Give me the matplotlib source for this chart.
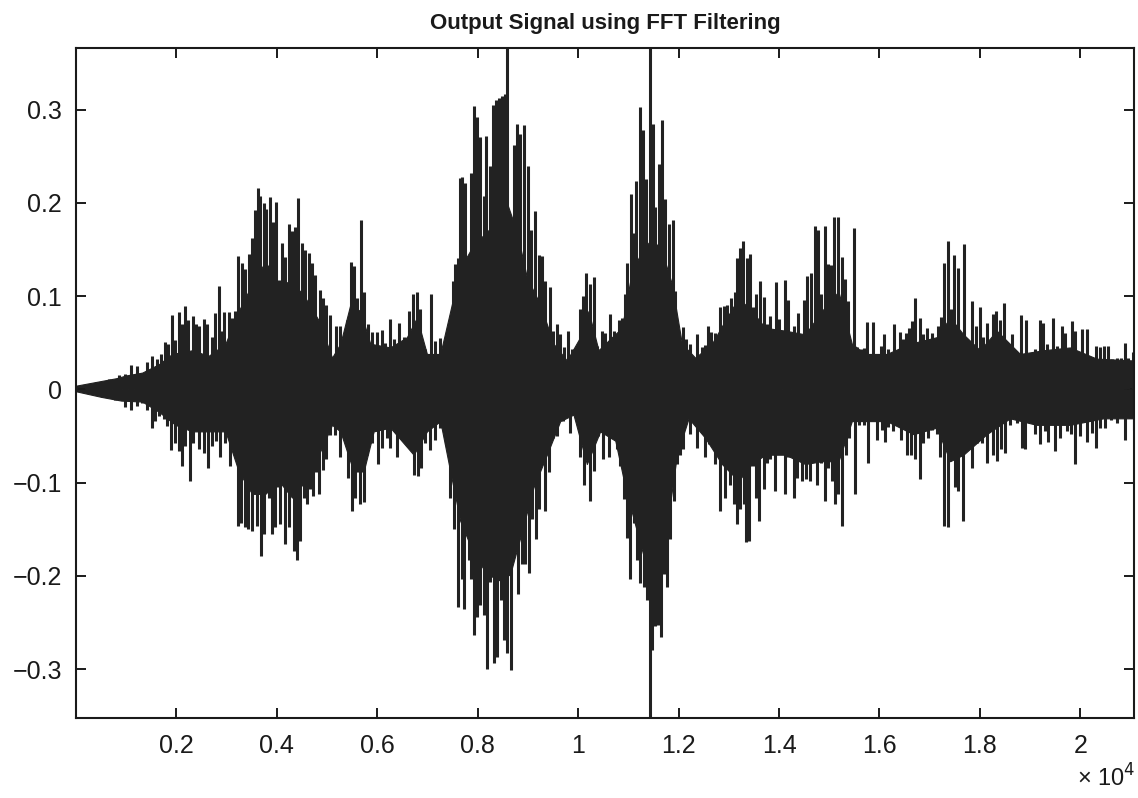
import matplotlib
matplotlib.use("Agg")
import matplotlib.pyplot as plt
import numpy as np

plt.rcParams['font.family'] = ['Liberation Sans', 'DejaVu Sans']

# ---- data (sample index, amplitude) ----
# upper peaks
hi_x = [0, 189, 388, 653, 852, 985, 1085, 1217, 1317, 1416, 1516, 1615, 1702, 1768, 1834,
        1914, 1980, 2060, 2113, 2166, 2232, 2325, 2392, 2445, 2557, 2610, 2710, 2776, 2843,
        2909, 2955, 3042, 3108, 3161, 3221, 3307, 3373, 3440, 3506, 3572, 3625, 3672, 3738,
        3791, 3858, 3924, 3984, 4037, 4103, 4170, 4236, 4302, 4369, 4422, 4501, 4568, 4634,
        4700, 4766, 4853, 4919, 4986, 5065, 5098, 5184,
        5264, 5330, 5396, 5483, 5542, 5595, 5675, 5741, 5808, 5894, 5993, 6093, 6159, 6245,
        6325, 6425, 6524, 6624, 6703, 6789, 6856, 6955, 7075, 7154, 7254, 7333, 7420, 7506,
        7552, 7599, 7639, 7692, 7745, 7804, 7864, 7917, 7984, 8050, 8116, 8169, 8236, 8302,
        8355, 8415, 8481, 8534, 8581, 8647, 8713, 8786, 8846, 8926, 8999, 9065, 9145, 9211,
        9277, 9344, 9430, 9496, 9576, 9642, 9722, 9795, 9874, 9940, 10027, 10093, 10160,
        10226, 10306, 10372, 10471,
        10540, 10640, 10706, 10806, 10872, 10925, 10978, 11045, 11098, 11157, 11224, 11284,
        11357, 11423, 11483, 11536, 11602, 11668, 11735, 11801, 11881, 11934, 12013, 12080,
        12146, 12232, 12299, 12372, 12464, 12531, 12584, 12650, 12730, 12829, 12896, 12962,
        13048, 13115, 13168, 13227, 13280, 13360, 13426, 13479, 13539, 13612, 13692, 13758,
        13824, 13931, 13990, 14123, 14189, 14289, 14388, 14494, 14567, 14634, 14707, 14773,
        14839, 14906, 14972, 15038, 15105, 15184, 15251, 15317, 15383, 15450, 15503, 15562,
        15635, 15701, 15748,
        15814, 15881, 15947, 16027, 16100, 16179, 16292, 16345, 16411, 16478, 16531, 16597,
        16644, 16716, 16756, 16809, 16876, 16942, 17042, 17108, 17161, 17227, 17287, 17367,
        17420, 17486, 17566, 17619, 17685, 17751, 17851, 17917, 18003, 18070, 18136, 18189,
        18269, 18322, 18402, 18488, 18547, 18634, 18713, 18819, 18912, 18999, 19098, 19198,
        19251, 19344, 19450, 19529, 19629, 19702, 19834, 19887, 20027, 20126, 20193, 20305,
        20392, 20471, 20557, 20624, 20723, 20803, 20889, 20955, 21055]
hi_v = [0.004, 0.004, 0.008, 0.011, 0.015, 0.017, 0.026, 0.025, 0.018, 0.029, 0.036, 0.033,
        0.038, 0.051, 0.049, 0.080, 0.053, 0.083, 0.070, 0.089, 0.074, 0.079, 0.070, 0.068,
        0.076, 0.070, 0.056, 0.082, 0.111, 0.063, 0.083, 0.083, 0.077, 0.084, 0.143, 0.135,
        0.129, 0.145, 0.162, 0.192, 0.216, 0.207, 0.200, 0.193, 0.206, 0.180, 0.201, 0.117,
        0.157, 0.142, 0.177, 0.170, 0.174, 0.205, 0.157, 0.150, 0.146, 0.135, 0.123, 0.107,
        0.098, 0.090, 0.080, 0.032, 0.068,
        0.068, 0.054, 0.074, 0.137, 0.132, 0.098, 0.182, 0.104, 0.070, 0.062, 0.062, 0.064,
        0.050, 0.076, 0.054, 0.071, 0.056, 0.084, 0.102, 0.104, 0.086, 0.043, 0.102, 0.052,
        0.055, 0.038, 0.055, 0.116, 0.134, 0.141, 0.227, 0.228, 0.221, 0.141, 0.232, 0.304,
        0.292, 0.271, 0.207, 0.272, 0.239, 0.305, 0.310, 0.312, 0.315, 0.317, 0.366, 0.182,
        0.262, 0.285, 0.274, 0.283, 0.240, 0.171, 0.191, 0.144, 0.143, 0.116, 0.110, 0.063,
        0.070, 0.059, 0.045, 0.063, 0.043, 0.036, 0.086, 0.100, 0.125, 0.113, 0.120, 0.047,
        0.063,
        0.060, 0.081, 0.063, 0.074, 0.077, 0.102, 0.135, 0.210, 0.168, 0.223, 0.303, 0.278,
        0.226, 0.366, 0.285, 0.196, 0.242, 0.289, 0.204, 0.177, 0.182, 0.106, 0.052, 0.067,
        0.054, 0.049, 0.033, 0.059, 0.045, 0.048, 0.068, 0.062, 0.061, 0.088, 0.089, 0.091,
        0.098, 0.104, 0.141, 0.152, 0.159, 0.141, 0.145, 0.088, 0.102, 0.116, 0.099, 0.070,
        0.079, 0.115, 0.075, 0.117, 0.096, 0.068, 0.082, 0.096, 0.122, 0.125, 0.175, 0.171,
        0.102, 0.175, 0.134, 0.133, 0.185, 0.185, 0.142, 0.118, 0.095, 0.038, 0.173, 0.045,
        0.043, 0.044, 0.072,
        0.038, 0.072, 0.035, 0.047, 0.059, 0.043, 0.070, 0.041, 0.062, 0.054, 0.060, 0.066,
        0.073, 0.098, 0.038, 0.077, 0.059, 0.066, 0.061, 0.036, 0.068, 0.078, 0.136, 0.159,
        0.086, 0.144, 0.130, 0.052, 0.156, 0.049, 0.095, 0.068, 0.088, 0.056, 0.071, 0.052,
        0.081, 0.084, 0.074, 0.093, 0.049, 0.059, 0.041, 0.080, 0.074, 0.035, 0.043, 0.074,
        0.071, 0.049, 0.077, 0.047, 0.068, 0.061, 0.073, 0.063, 0.065, 0.065, 0.035, 0.047,
        0.045, 0.047, 0.047, 0.033, 0.034, 0.034, 0.050, 0.034, 0.040]

# lower peaks
lo_x = [0, 322, 521, 786, 972, 1085, 1217, 1317, 1416, 1516, 1582, 1649, 1748, 1814, 1901,
        1980, 2047, 2113, 2179, 2265, 2325, 2392, 2458, 2544, 2630, 2710, 2790, 2876, 2975,
        3075, 3161, 3221, 3287, 3360, 3426, 3506, 3606, 3678, 3738, 3838, 3904, 3971, 4024,
        4070, 4156, 4236, 4336, 4402, 4468, 4534, 4601, 4654, 4720, 4780, 4846, 4912, 4979,
        5065, 5164, 5264,
        5330, 5410, 5496, 5562, 5648, 5728, 5794, 5894, 6013, 6093, 6192, 6259, 6391, 6524,
        6624, 6723, 6803, 6876, 6955, 7055, 7154, 7254, 7373, 7453, 7532, 7612, 7685, 7731,
        7818, 7871, 7930, 7984, 8050, 8130, 8183, 8249, 8322, 8382, 8461, 8528, 8581, 8660,
        8727, 8800, 8879, 8945, 9012, 9078, 9158, 9224, 9344, 9410, 9490, 9576, 9708, 9841,
        9974, 10040, 10126, 10239, 10306, 10405, 10504,
        10607, 10673, 10773, 10839, 10905, 10972, 11038, 11104, 11171, 11237, 11303, 11370,
        11423, 11469, 11536, 11589, 11642, 11701, 11768, 11834, 11900, 11967, 12033, 12080,
        12146, 12232, 12299, 12365, 12464, 12531, 12610, 12716, 12829, 12929, 13028, 13095,
        13161, 13227, 13294, 13347, 13406, 13479, 13539, 13605, 13692, 13758, 13824, 13924,
        13990, 14110, 14176, 14289, 14355, 14455, 14541, 14620, 14693, 14766, 14839, 14906,
        14972, 15052, 15118, 15184, 15257, 15330, 15403, 15463, 15516, 15602, 15702, 15768,
        15814, 15960, 16046, 16113, 16179, 16279, 16365, 16425, 16478, 16557, 16624, 16710,
        16809, 16876, 16962, 17042, 17141, 17207, 17294, 17373, 17440, 17506, 17572, 17672,
        17738, 17851, 17937, 18037, 18136, 18256, 18335, 18415, 18494, 18600, 18733, 18833,
        18906, 18985, 19098, 19198, 19297, 19364, 19503, 19596, 19728, 19814, 19901, 19994,
        20126, 20226, 20312, 20392, 20491, 20604, 20723, 20889, 20988, 21060]
lo_v = [-0.002, -0.002, -0.008, -0.011, -0.019, -0.022, -0.018, -0.015, -0.022, -0.041,
        -0.034, -0.029, -0.032, -0.039, -0.065, -0.057, -0.066, -0.082, -0.061, -0.098,
        -0.057, -0.031, -0.064, -0.068, -0.084, -0.061, -0.055, -0.072, -0.057, -0.082,
        -0.070, -0.146, -0.143, -0.147, -0.150, -0.152, -0.146, -0.179, -0.155, -0.116,
        -0.155, -0.148, -0.105, -0.144, -0.166, -0.148, -0.173, -0.183, -0.162, -0.116,
        -0.123, -0.107, -0.114, -0.089, -0.112, -0.086, -0.075, -0.049, -0.049, -0.073,
        -0.052, -0.095, -0.130, -0.116, -0.123, -0.121, -0.070, -0.057, -0.080, -0.063,
        -0.052, -0.063, -0.072, -0.047, -0.057, -0.092, -0.093, -0.084, -0.057, -0.065,
        -0.054, -0.041, -0.059, -0.116, -0.150, -0.233, -0.203, -0.235, -0.183, -0.203,
        -0.263, -0.244, -0.231, -0.242, -0.300, -0.207, -0.293, -0.287, -0.226, -0.269,
        -0.283, -0.301, -0.162, -0.219, -0.187, -0.187, -0.197, -0.139, -0.160, -0.128,
        -0.130, -0.089, -0.052, -0.050, -0.034, -0.047, -0.031, -0.072, -0.102, -0.120,
        -0.088, -0.050, -0.075,
        -0.073, -0.052, -0.064, -0.082, -0.118, -0.159, -0.203, -0.143, -0.183, -0.208,
        -0.212, -0.226, -0.352, -0.279, -0.254, -0.253, -0.265, -0.198, -0.212, -0.160,
        -0.120, -0.080, -0.070, -0.064, -0.031, -0.048, -0.036, -0.063, -0.045, -0.072,
        -0.059, -0.080, -0.130, -0.116, -0.102, -0.123, -0.144, -0.128, -0.123, -0.164,
        -0.162, -0.082, -0.116, -0.141, -0.107, -0.079, -0.075, -0.109, -0.050, -0.112,
        -0.073, -0.116, -0.095, -0.098, -0.096, -0.098, -0.075, -0.102, -0.079, -0.120,
        -0.084, -0.098, -0.123, -0.112, -0.146, -0.070, -0.052, -0.031, -0.112, -0.038,
        -0.038, -0.079,
        -0.031, -0.054, -0.043, -0.056, -0.040, -0.045, -0.031, -0.054, -0.041, -0.070,
        -0.070, -0.075, -0.096, -0.057, -0.052, -0.043, -0.048, -0.072, -0.146, -0.148,
        -0.056, -0.105, -0.109, -0.141, -0.054, -0.084, -0.057, -0.057, -0.079, -0.070,
        -0.077, -0.064, -0.068, -0.038, -0.036, -0.063, -0.064, -0.034, -0.048, -0.059,
        -0.045, -0.056, -0.066, -0.052, -0.045, -0.048, -0.080, -0.050, -0.056, -0.047,
        -0.063, -0.041, -0.041, -0.033, -0.036, -0.054, -0.031, -0.043]

# dense core of the waveform (upper / lower edge of the solid region)
core_hi_x = [0, 400, 800, 1000, 1317, 1650, 1914, 2315, 2640, 2975, 3240, 3506, 3770, 4037,
             4302, 4568, 4833, 5098, 5264, 5463, 5661, 5860, 6258, 6590, 6789, 6988, 7254,
             7453, 7652, 7917, 8183, 8448, 8581, 8780, 8979, 9244, 9509, 9775, 10040, 10206,
             10405, 10673, 10872, 11071, 11270, 11469, 11668, 11867, 12066, 12332, 12664,
             12929, 13194, 13460, 13725, 14123, 14521, 14853, 15184, 15450, 15715, 16146,
             16610, 17141, 17407, 17672, 18003, 18335, 18800, 19264, 19794, 20325, 21070]
core_hi = [0.004, 0.008, 0.012, 0.015, 0.018, 0.027, 0.038, 0.042, 0.036, 0.049, 0.084,
           0.113, 0.137, 0.113, 0.116, 0.098, 0.074, 0.034, 0.049, 0.091, 0.084, 0.049,
           0.045, 0.056, 0.077, 0.038, 0.038, 0.084, 0.130, 0.155, 0.169, 0.184, 0.200,
           0.169, 0.120, 0.091, 0.049, 0.031, 0.056, 0.084, 0.042, 0.056, 0.066, 0.127,
           0.148, 0.162, 0.148, 0.113, 0.049, 0.034, 0.049, 0.074, 0.098, 0.084, 0.066,
           0.063, 0.059, 0.084, 0.105, 0.049, 0.038, 0.038, 0.049, 0.056, 0.077, 0.059,
           0.042, 0.063, 0.038, 0.042, 0.045, 0.033, 0.031]
core_lo_x = [0, 500, 900, 1317, 1650, 1980, 2315, 2640, 2975, 3240, 3506, 3770, 4037, 4302,
             4568, 4833, 5098, 5264, 5529, 5728, 5927, 6259, 6723, 6988, 7254, 7453, 7652,
             7917, 8183, 8448, 8647, 8846, 9111, 9377, 9642, 9907, 10173, 10438, 10740,
             10939, 11204, 11403, 11602, 11801, 11967, 12199, 12531, 12863, 13194, 13460,
             13725, 14123, 14521, 14853, 15184, 15450, 15715, 16146, 16677, 17141, 17407,
             17672, 18136, 18600, 19131, 19794, 20458, 21070]
core_lo = [-0.002, -0.008, -0.012, -0.013, -0.024, -0.038, -0.045, -0.045, -0.045, -0.088,
           -0.112, -0.112, -0.098, -0.116, -0.098, -0.070, -0.038, -0.045, -0.088, -0.088,
           -0.045, -0.041, -0.070, -0.045, -0.034, -0.088, -0.141, -0.176, -0.198, -0.205,
           -0.198, -0.159, -0.105, -0.070, -0.034, -0.027, -0.080, -0.045, -0.055, -0.105,
           -0.159, -0.198, -0.176, -0.134, -0.070, -0.031, -0.052, -0.080, -0.098, -0.080,
           -0.070, -0.070, -0.080, -0.077, -0.077, -0.034, -0.034, -0.034, -0.048, -0.041,
           -0.077, -0.070, -0.048, -0.031, -0.038, -0.038, -0.031, -0.031]

x_ticks = [2000, 4000, 6000, 8000, 10000, 12000, 14000, 16000, 18000, 20000]
x_ticklabels = ['0.2', '0.4', '0.6', '0.8', '1', '1.2', '1.4', '1.6', '1.8', '2']
y_ticks = [-0.3, -0.2, -0.1, 0, 0.1, 0.2, 0.3]
y_ticklabels = ['\u22120.3', '\u22120.2', '\u22120.1', '0', '0.1', '0.2', '0.3']

# ---- figure ----
fig = plt.figure(figsize=(11.38, 7.98), dpi=100)
ax = fig.add_axes([0.0668, 0.1006, 0.9297, 0.8392])

sig = '#222222'
ax.fill_between(core_hi_x, 0, core_hi, color=sig, linewidth=0.8, edgecolor=sig)
ax.fill_between(core_lo_x, core_lo, 0, color=sig, linewidth=0.8, edgecolor=sig)
ax.vlines(hi_x, 0, hi_v, color=sig, linewidth=2.2)
ax.vlines(lo_x, lo_v, 0, color=sig, linewidth=2.2)

ax.set_xlim(0, 21070)
ax.set_ylim(-0.352, 0.366)
ax.set_xticks(x_ticks)
ax.set_xticklabels(x_ticklabels)
ax.set_yticks(y_ticks)
ax.set_yticklabels(y_ticklabels)

ax.tick_params(direction='in', length=7, width=1.4, top=True, right=True,
               labelsize=18, colors='#1a1a1a')
ax.tick_params(axis='x', pad=12)
ax.tick_params(axis='y', pad=10)
for s in ax.spines.values():
    s.set_linewidth(1.5)
    s.set_color('#1a1a1a')

ax.set_title('Output Signal using FFT Filtering', fontsize=16, fontweight='bold',
             pad=14, color='#1a1a1a')
fig.text(0.972, 0.014, '\u00d7 10$^{4}$', fontsize=17, ha='center', va='baseline',
         color='#1a1a1a')

fig.savefig('out.png', dpi=100)
